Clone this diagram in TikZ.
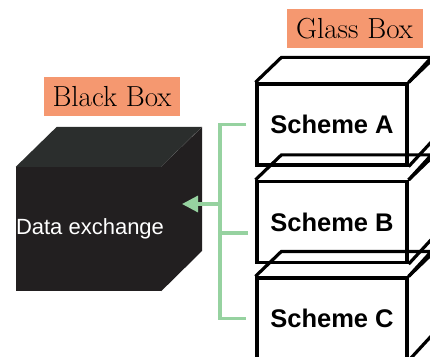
\documentclass[tikz,border=0pt]{standalone}
\usepackage{fontspec}
\setmainfont{Latin Modern Roman}
\newfontfamily\schemefont{Liberation Sans}
\usetikzlibrary{arrows.meta}

\definecolor{salmon}{RGB}{245,152,112}
\definecolor{boxtop}{RGB}{43,46,45}
\definecolor{boxfront}{RGB}{34,31,32}
\definecolor{linkgreen}{RGB}{150,210,160}

\tikzset{
  boxlabel/.style={fill=salmon, inner sep=0pt, minimum width=136pt, minimum height=39pt,
    font=\fontsize{29}{32}\selectfont},
  blackface/.style={fill=boxfront, inner sep=0pt, minimum width=145pt, minimum height=124pt},
  blacktext/.style={inner sep=0pt, text=white, font=\schemefont\fontsize{22}{26}\selectfont},
  glassface/.style={draw, line width=3.2pt, inner sep=0pt, minimum width=150pt, minimum height=81pt,
    font=\schemefont\bfseries\fontsize{25.5}{30}\selectfont},
  glassedge/.style={line width=3.2pt},
  link/.style={draw=linkgreen, line width=3.2pt}
}

\begin{document}
\begin{tikzpicture}[x=1pt,y=1pt]
  \useasboundingbox (0,0) rectangle (430,356);
  \clip (0,0) rectangle (430,356);

  % Black Box
  \node[boxlabel] (blacklabel) at (112,259.5) {Black Box};
  \node[blackface] (blackfront) at (88.5,127) {};
  \fill[boxtop] (blackfront.north west) -- ++(41,40) -- ++(145,0) -- (blackfront.north east) -- cycle;
  \fill[boxfront] (blackfront.north east) -- ++(41,40) -- ++(0,-124) -- (blackfront.south east) -- cycle;
  \node[blacktext] (datalabel) at ([xshift=1.5pt]blackfront.center) {Data exchange};

  % Glass Box
  \node[boxlabel] (glasslabel) at (354.5,327) {Glass Box};
  \foreach \name/\y/\txt in {schemeA/231.5/Scheme A, schemeB/134/Scheme B, schemeC/37.5/Scheme C}{
    \node[glassface] (\name) at (332,\y) {\txt};
    \draw[glassedge] (\name.north west) -- ++(26,25) -- ++(150,0) -- (\name.north east);
    \draw[glassedge] (\name.north east) -- ++(26,25) -- ++(0,-81) -- (\name.south east);
  }

  % connector
  \coordinate (busA) at ([xshift=-9pt]schemeA.west);
  \coordinate (busB) at (248,123);
  \coordinate (busC) at ([xshift=-9pt]schemeC.west);
  \coordinate (spine) at (220,152);
  \coordinate (tip) at (182,152);
  \draw[link] (busA) -| (spine |- busC) -- (busC);
  \draw[link] (busB) -- (spine |- busB);
  \draw[link, -{Triangle[length=16pt,width=16pt]}] (spine) -- (tip);
\end{tikzpicture}
\end{document}
